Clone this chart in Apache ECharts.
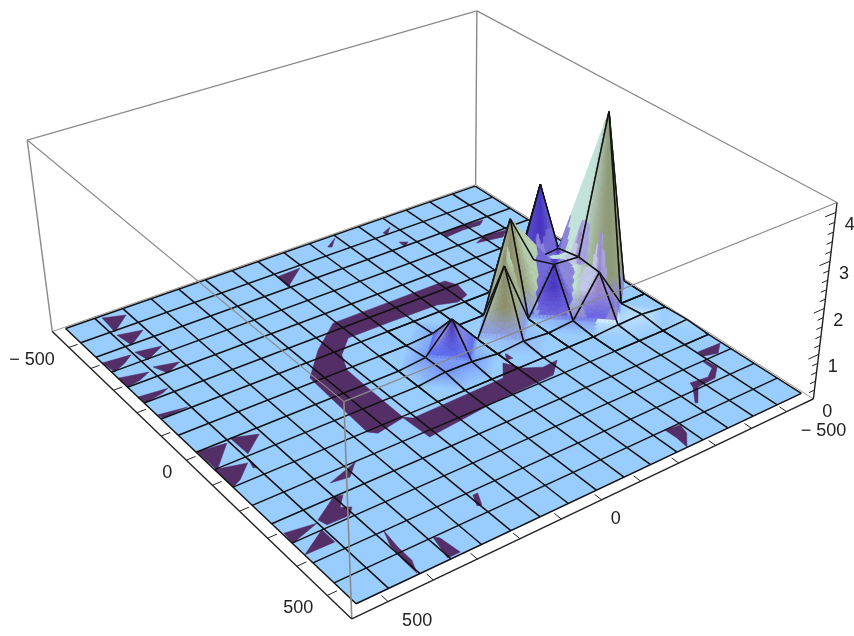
<!DOCTYPE html><html><head><script src="https://cdn.jsdelivr.net/npm/echarts@6/dist/echarts.min.js"></script></head><body style="margin:0;background:#fff"><div id="c" style="width:854px;height:636px;filter:blur(0.45px)"></div>
<script>
var meshA=[-495,-434,-374,-313,-253,-192,-131,-71,-10,51,111,172,232,293,354,414,475];
var meshB=[-495,-434,-374,-313,-253,-192,-131,-71,-10,51,111,172,232,293,354,414,475];
// [index along A, index along B, height, tint]
var heightPoints=[[8,1,4.05,'sage'],[8,2,1.0,'lobe'],[9,2,0.95,'lobe'],[6,2,2.1,'violet'],[7,3,0.85,'violet'],[8,3,1.05,'violet'],[7,2,0.9,'violet'],[7,4,2.0,'olive'],[8,5,1.45,'olive'],[8,7,0.7,'small'],
 [8,8,0.06,'small'],[9,8,0.07,'small'],[9,7,0.06,'small'],[7,7,0.04,'small'],[9,5,0.05,'olive'],[9,3,0.05,'violet'],[10,2,0.04,'glow'],[10,1,0.06,'glow'],[11,0,0.03,'glow']];
var tints={sage:['#c3e2da','#8f9a78','#c6dfc8','#8f86d8'],olive:['#b9d8cc','#8d8f6b','#b6cfae','#8f9ce6'],violet:['#7268d6','#4a36c2','#8c86d8','#6f66e0'],lobe:['#c2c8e8','#9a86cc','#a8a4e0','#6a62e6'],small:['#dbe4f6','#4f3ab4','#dbe8f5','#5e6cf0'],glow:['#e8f4ff','#e8f4ff','#e8f4ff','#eef8ff']};
var ring=[[-149,-211],[-189,-219],[-216,-207],[-216,-99],[-216,57],[-155,131],[-86,194],[-3,199],[113,205],[127,192],[115,130],[189,126],[172,-26],[166,-170],[132,-207],[135,-171],[116,-140],[81,-120],[120,-90],[124,40],[126,116],[113,129],[-1,127],[-68,125],[-115,105],[-156,63],[-156,-33],[-153,-142],[-138,-181]];
var patches=[ring,[[-488,402],[-471,360],[-430,406]],[[-418,408],[-405,360],[-372,402]],[[-347,409],[-336,358],[-310,402]],[[-350,475],[-343,419],[-326,441],[-310,470]],[[-284,406],[-270,358],[-251,394]],[[-289,475],[-274,420],[-260,446],[-253,474]],[[-215,475],[-208,418],[-200,433],[-191,474]],[[-146,475],[-136,419],[-132,471]],[[-10,474],[-2,419],[55,472]],[[-12,407],[8,360],[46,406]],[[51,475],[68,420],[101,455],[111,475]],[[56,412],[90,413],[85,420]],[[197,338],[173,271],[203,302]],[[268,409],[232,355],[237,339],[261,361],[272,345],[288,360],[287,404]],[[264,472],[274,415],[294,474]],[[330,475],[293,418],[331,418]],[[364,165],[364,155],[394,169],[391,177]],[[414,284],[422,276],[470,271],[470,296]],[[352,338],[401,344],[441,345],[471,357],[432,356],[389,351]],[[414,-219],[419,-251],[443,-244],[474,-216],[444,-220]],[[265,-437],[267,-492],[290,-465],[281,-435]],[[293,-429],[323,-431],[347,-403],[350,-358],[387,-323],[384,-319],[345,-350],[332,-355],[337,-395],[320,-421],[295,-422]],[[-462,-94],[-484,-126],[-457,-101]],[[-444,-218],[-456,-244],[-432,-220]],[[-394,-223],[-384,-238],[-371,-221]],[[-373,-316],[-375,-356],[-367,-418],[-354,-400],[-358,-359],[-354,-315]],[[-315,-383],[-305,-432],[-287,-408],[-299,-349]],[[-422,52],[-425,-3],[-377,55]],[[57,-144],[79,-145],[77,-132]]];
var ticksAB=[-500,-400,-300,-200,-100,0,100,200,300,400,500];
var labelsAB=[-500,0,500];
var ticksZ=[0,0.2,0.4,0.6,0.8,1,1.2,1.4,1.6,1.8,2,2.2,2.4,2.6,2.8,3,3.2,3.4,3.6,3.8,4];
var labelsZ=[0,1,2,3,4];
var zTop=4.2,tickScale=0.865;
var corners=[[-1,1,0,52,332],[1,1,0,352,620],[1,-1,0,813,397],[-1,-1,0,476,185],[-1,1,1,28,140],[1,1,1,343,400],[1,-1,1,838,205],[-1,-1,1,476,10]];
function solve(M,b){var n=b.length;M=M.map(function(r,i){return r.concat([b[i]])});for(var i=0;i<n;i++){var p=i;for(var k=i;k<n;k++)if(Math.abs(M[k][i])>Math.abs(M[p][i]))p=k;var t=M[i];M[i]=M[p];M[p]=t;for(k=0;k<n;k++)if(k!=i){var f=M[k][i]/M[i][i];for(var j=i;j<=n;j++)M[k][j]-=f*M[i][j]}}return M.map(function(r,i){return r[n]/r[i]})}
var rows=[],rhs=[];corners.forEach(function(c){var X=c[0],Y=c[1],Z=c[2],u=c[3],v=c[4];rows.push([X,Y,Z,1,0,0,0,0,-u*X,-u*Y,-u*Z]);rhs.push(u);rows.push([0,0,0,0,X,Y,Z,1,-v*X,-v*Y,-v*Z]);rhs.push(v)});
var N=[],Bv=[];for(var i=0;i<11;i++){N.push([]);Bv.push(0);for(var j=0;j<11;j++){var s=0;rows.forEach(function(r){s+=r[i]*r[j]});N[i].push(s)}rows.forEach(function(r,k){Bv[i]+=r[i]*rhs[k]})}
var P=solve(N,Bv);
function proj(a,b,z){var X=a/500,Y=b/500,Z=z/zTop,w=P[8]*X+P[9]*Y+P[10]*Z+1;return [(P[0]*X+P[1]*Y+P[2]*Z+P[3])/w,(P[4]*X+P[5]*Y+P[6]*Z+P[7])/w]}
var Zmap={};heightPoints.forEach(function(h){Zmap[h[0]+'_'+h[1]]=h[2]});
function H(i,j){return Zmap[i+'_'+j]||0}
function hex(c){return [parseInt(c.substr(1,2),16),parseInt(c.substr(3,2),16),parseInt(c.substr(5,2),16)]}
function mix(a,b,t){return [a[0]+(b[0]-a[0])*t,a[1]+(b[1]-a[1])*t,a[2]+(b[2]-a[2])*t]}
var base=hex('#99CCFF');
function shade(fi,fj,z,sx){
 var near=null,dn=1e9,low=null,dl=1e9;
 heightPoints.forEach(function(h){var d=(h[0]-fi)*(h[0]-fi)+(h[1]-fj)*(h[1]-fj),w=d/Math.pow(h[2],1.5);if(h[2]>=0.5&&w<dn){dn=w;near=h}if(d<dl){dl=d;low=h}});
 var sk=hex(tints[low[3]][3]);
 var c=mix(base,sk,Math.min(1,z/0.12));
 if(z>0.12){var T=tints[near[3]];var tip=proj(meshA[near[0]],meshB[near[1]],near[2]);var f=Math.min(1,z/near[2]);
  var W=30*Math.pow(near[2],0.2)*(1-f)+3;var uu=Math.max(-1,Math.min(1,(sx-tip[0])/W));
  var col=uu<0?mix(hex(T[1]),hex(T[0]),Math.pow(-uu,1.6)):mix(hex(T[1]),hex(T[2]),Math.pow(uu,1.6));
  c=mix(hex(T[3]),col,Math.min(1,(z-0.12)/0.5));}
 return 'rgb('+Math.round(c[0])+','+Math.round(c[1])+','+Math.round(c[2])+')';
}
var chart=echarts.init(document.getElementById('c'));
var cells=[];for(var s2=0;s2<31;s2++)for(var ci=0;ci<16;ci++){var cj=s2-ci;if(cj<0||cj>15)continue;if(H(ci,cj)||H(ci+1,cj)||H(ci,cj+1)||H(ci+1,cj+1))cells.push([ci,cj])}
function seg(a,b,col,w){return {type:'line',shape:{x1:a[0],y1:a[1],x2:b[0],y2:b[1]},style:{stroke:col,lineWidth:w}}}
function renderFlat(params,api){
 var ch=[];function C(a,b,z){return api.coord(proj(a,b,z||0))}
 var n=meshA.length,a0=meshA[0],a1=meshA[n-1],b0=meshB[0],b1=meshB[n-1];
 ch.push(seg(C(-500,500),C(-500,-500),'#999',1));ch.push(seg(C(-500,-500),C(500,-500),'#999',1));
 ch.push({type:'polygon',shape:{points:[C(a0,b1),C(a1,b1),C(a1,b0),C(a0,b0)]},style:{fill:'#99CCFF'}});
 patches.forEach(function(q){ch.push({type:'polygon',shape:{points:q.map(function(p){return C(p[0],p[1])})},style:{fill:'#542E66',stroke:'#542E66',lineWidth:0.5}})});
 for(var i=0;i<n;i++){ch.push(seg(C(meshA[i],b0),C(meshA[i],b1),'#111',1.5));ch.push(seg(C(a0,meshB[i]),C(a1,meshB[i]),'#111',1.5));}
 return {type:'group',children:ch};
}
function renderCell(params,api){
 var i=api.value(0),j=api.value(1),ch=[],D=12;
 var c00=[0,0,H(i,j)],c10=[1,0,H(i+1,j)],c01=[0,1,H(i,j+1)],c11=[1,1,H(i+1,j+1)];
 var m1=Math.min(c00[2],c11[2]),m2=Math.min(c10[2],c01[2]),mx=Math.max(c00[2],c10[2],c01[2],c11[2]),useD1;
 if(Math.abs(m1-m2)<0.2)useD1=!(c00[2]===mx||c11[2]===mx);else useD1=m1>m2;
 var tris=useD1?[[c00,c10,c11],[c00,c11,c01]]:[[c00,c10,c01],[c10,c11,c01]];
 tris.sort(function(a,b){return (a[0][0]+a[1][0]+a[2][0]+a[0][1]+a[1][1]+a[2][1])-(b[0][0]+b[1][0]+b[2][0]+b[0][1]+b[1][1]+b[2][1])});
 function W(t,r,s){var a=r/D,b=s/D,c=1-a-b;return [t[0][0]*c+t[1][0]*a+t[2][0]*b,t[0][1]*c+t[1][1]*a+t[2][1]*b,t[0][2]*c+t[1][2]*a+t[2][2]*b]}
 function Pr(w){return proj(meshA[i]+(meshA[i+1]-meshA[i])*w[0],meshB[j]+(meshB[j+1]-meshB[j])*w[1],w[2])}
 function tri(a,b,c){var z=(a[2]+b[2]+c[2])/3;if(z<0.004)return;var u=(a[0]+b[0]+c[0])/3,v=(a[1]+b[1]+c[1])/3;
  var sx=(Pr(a)[0]+Pr(b)[0]+Pr(c)[0])/3,col=shade(i+u,j+v,z,sx);
  ch.push({type:'polygon',shape:{points:[a,b,c].map(function(w){return api.coord(Pr(w))})},style:{fill:col,stroke:col,lineWidth:0.6}})}
 tris.forEach(function(t){for(var r=0;r<D;r++)for(var s=0;s<D-r;s++){tri(W(t,r,s),W(t,r+1,s),W(t,r,s+1));if(s<D-r-1)tri(W(t,r+1,s),W(t,r+1,s+1),W(t,r,s+1))}});
 var p00=api.coord(Pr(c00)),p10=api.coord(Pr(c10)),p11=api.coord(Pr(c11)),p01=api.coord(Pr(c01));
 [[p00,p10],[p10,p11],[p11,p01],[p01,p00]].forEach(function(e){ch.push(seg(e[0],e[1],'#111',1.5))});
 return {type:'group',children:ch};
}
function renderBox(params,api){
 var ch=[];function L(p,q,col,w){ch.push(seg(api.coord(proj(p[0],p[1],p[2])),api.coord(proj(q[0],q[1],q[2])),col,w))}
 var g='#8a8a8a',T=zTop,M=500,k='#222';
 L([-M,M,T],[-M,-M,T],g,1.2);L([-M,-M,T],[M,-M,T],g,1.2);L([-M,-M,0],[-M,-M,T],g,1.4);L([-M,M,0],[-M,M,T],g,1.4);
 L([-M,M,T],[M,M,T],g,1.2);L([M,M,T],[M,-M,T],g,1.2);L([M,M,0],[M,M,T],g,1.6);
 L([-M,M,0],[M,M,0],k,1.4);L([M,M,0],[M,-M,0],k,1.4);L([M,-M,0],[M,-M,T],k,1.4);
 ticksAB.forEach(function(t){var s=t*tickScale;L([s,M,0],[s,M-18,0],k,1);L([M,-s,0],[M-18,-s,0],k,1)});
 ticksZ.forEach(function(t,i){L([M,-M,t],[M,-M+(i%5==0?26:14),t],k,1)});
 function Tx(txt,x,y,al){var c=api.coord([x,y]);ch.push({type:'text',style:{text:txt,x:c[0],y:c[1],font:'18px "Liberation Sans"',fill:'#222',align:al,verticalAlign:'middle'}})}
 function fmt(t){return t<0?'− '+(-t):''+t}
 labelsAB.forEach(function(t){var s=t*tickScale;var p=proj(s,M,0);Tx(fmt(t),p[0]-14,p[1]+13,'right');p=proj(M,-s,0);Tx(fmt(-t),p[0]+(t===0?9:14),p[1]+19,'left')});
 labelsZ.forEach(function(t){var p=proj(M,-M,t);Tx(''+t,p[0]+14,p[1]+13,'center')});
 return {type:'group',children:ch};
}
chart.setOption({animation:false,grid:{left:0,right:0,top:0,bottom:0},
 xAxis:{type:'value',min:0,max:854,show:false},yAxis:{type:'value',min:0,max:636,inverse:true,show:false},
 series:[{type:'custom',renderItem:renderFlat,data:[[0,0]],clip:false,silent:true,z:1},
 {type:'custom',renderItem:renderCell,data:cells,clip:false,silent:true,z:2},
 {type:'custom',renderItem:renderBox,data:[[0,0]],clip:false,silent:true,z:3}]});
</script></body></html>
